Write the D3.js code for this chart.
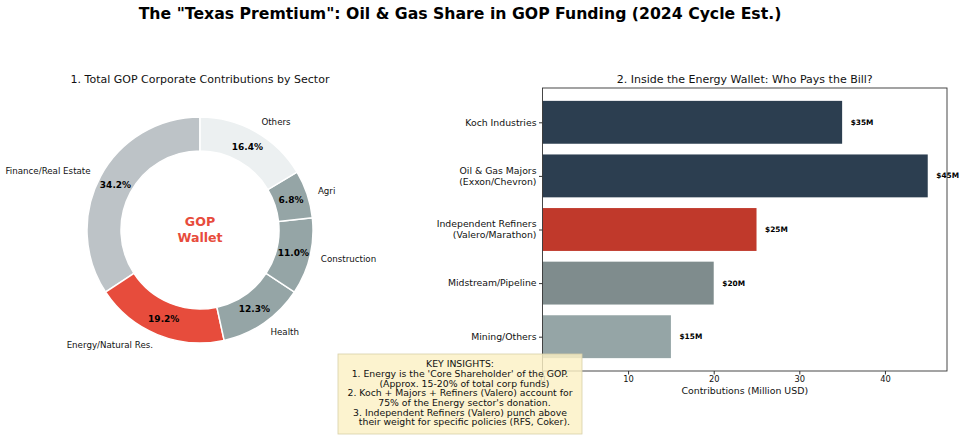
<!DOCTYPE html>
<html><head><meta charset="utf-8">
<script src="https://cdn.jsdelivr.net/npm/d3@7"></script>
<style>
body{margin:0;background:#fff;}
svg{display:block;font-family:"DejaVu Sans",sans-serif;}
text{white-space:pre;}
</style></head>
<body>
<svg id="c" width="966" height="435" xml:space="preserve"></svg>
<script>
// ---- Data ----
const sectors = ["Finance/Real Estate","Energy/Natural Res.","Health","Construction","Agri","Others"];
const sectorValues = [250,140,90,80,50,120];
const sectorColors = ["#bdc3c7","#e74c3c","#95a5a6","#95a5a6","#95a5a6","#ecf0f1"];

const payers = ["Koch Industries","Oil & Gas Majors\n(Exxon/Chevron)","Independent Refiners\n(Valero/Marathon)","Midstream/Pipeline","Mining/Others"];
const payerValues = [35,45,25,20,15];
const payerColors = ["#2c3e50","#2c3e50","#c0392b","#7f8c8d","#95a5a6"];
const xTicks = [0,10,20,30,40];

const insights = [
  "KEY INSIGHTS:",
  "1. Energy is the 'Core Shareholder' of the GOP.",
  "   (Approx. 15-20% of total corp funds)",
  "2. Koch + Majors + Refiners (Valero) account for",
  "   75% of the Energy sector's donation.",
  "3. Independent Refiners (Valero) punch above",
  "   their weight for specific policies (RFS, Coker)."
];

const svg = d3.select("#c");
const ink = "#111";

// Title
svg.append("text").attr("x",460).attr("y",19).attr("text-anchor","middle")
  .attr("font-size",15.7).attr("font-weight","bold").attr("fill","#000")
  .text('The "Texas Premtium": Oil & Gas Share in GOP Funding (2024 Cycle Est.)');

// ---- Donut ----
const cx=200, cy=230, R=113, r0=79;
svg.append("text").attr("x",200).attr("y",83).attr("text-anchor","middle").attr("font-size",11)
  .attr("fill",ink).text("1. Total GOP Corporate Contributions by Sector");
const total = d3.sum(sectorValues);
const pie = d3.pie().sort(null).startAngle(0).endAngle(-2*Math.PI);
const arcs = pie(sectorValues);
const arc = d3.arc().innerRadius(r0).outerRadius(R);
const g = svg.append("g").attr("transform",`translate(${cx},${cy})`);
g.selectAll("path").data(arcs).enter().append("path")
  .attr("d",arc).attr("fill",(d,i)=>sectorColors[i]).attr("stroke","#fff").attr("stroke-width",1.5);
arcs.forEach((d,i)=>{
  const mid=(d.startAngle+d.endAngle)/2;
  const sx=Math.sin(mid), sy=-Math.cos(mid);
  const lx=1.1*R*sx, ly=1.1*R*sy;
  g.append("text").attr("x",lx).attr("y",ly).attr("dy","0.35em")
    .attr("text-anchor", lx>0?"start":"end").attr("font-size",8.7).attr("fill",ink).text(sectors[i]);
  const px=0.85*R*sx, py=0.85*R*sy;
  g.append("text").attr("x",px).attr("y",py).attr("dy","0.35em").attr("text-anchor","middle")
    .attr("font-size",9).attr("font-weight","bold").attr("fill","#000")
    .text((sectorValues[i]/total*100).toFixed(1)+"%");
});
g.append("text").attr("x",0).attr("y",-8).attr("dy","0.35em").attr("text-anchor","middle")
  .attr("font-size",12.6).attr("font-weight","bold").attr("fill","#e74c3c").text("GOP");
g.append("text").attr("x",0).attr("y",8).attr("dy","0.35em").attr("text-anchor","middle")
  .attr("font-size",12.6).attr("font-weight","bold").attr("fill","#e74c3c").text("Wallet");

// ---- Bars ----
const L=542.5, Rt=947, T=88, B=371;
svg.append("text").attr("x",(L+Rt)/2).attr("y",83).attr("text-anchor","middle").attr("font-size",11)
  .attr("fill",ink).text("2. Inside the Energy Wallet: Who Pays the Bill?");
const x = d3.scaleLinear().domain([0, d3.max(payerValues)*1.05]).range([L,Rt]);
const y = d3.scaleLinear().domain([-0.64, payers.length-1+0.64]).range([T,B]);
const bh = y(0.8)-y(0);
const bg = svg.append("g");
payers.forEach((p,i)=>{
  bg.append("rect").attr("x",x(0)).attr("y",y(i)-bh/2).attr("width",x(payerValues[i])-x(0)).attr("height",bh)
    .attr("fill",payerColors[i]);
  bg.append("text").attr("x",x(payerValues[i]+1)).attr("y",y(i)).attr("dy","0.35em")
    .attr("font-size",7.4).attr("font-weight","bold").attr("fill","#000").text("$"+payerValues[i]+"M");
});
const yAx = svg.append("g").attr("transform",`translate(${L},0)`)
  .call(d3.axisLeft(y).tickValues(d3.range(payers.length)).tickSize(3.5).tickFormat(""));
yAx.select(".domain").remove();
yAx.selectAll("line").attr("stroke","#333");
payers.forEach((p,i)=>{
  const lines=p.split("\n");
  const t=svg.append("text").attr("x",L-6).attr("text-anchor","end").attr("font-size",9.3).attr("fill",ink);
  lines.forEach((ln,k)=>{
    t.append("tspan").attr("x",L-6).attr("y",y(i)+(k-(lines.length-1)/2)*11).attr("dy","0.35em").text(ln);
  });
});
const xAx = svg.append("g").attr("transform",`translate(0,${B})`)
  .call(d3.axisBottom(x).tickValues(xTicks).tickSize(3.5).tickPadding(2).tickFormat(d3.format("d")));
xAx.select(".domain").remove();
xAx.selectAll("line").attr("stroke","#333");
xAx.selectAll("text").attr("font-size",8.3).attr("fill",ink).attr("font-family","DejaVu Sans");
svg.append("text").attr("x",(L+Rt)/2).attr("y",394).attr("text-anchor","middle").attr("font-size",9.4)
  .attr("fill",ink).text("Contributions (Million USD)");
svg.append("rect").attr("x",L).attr("y",T).attr("width",Rt-L).attr("height",B-T)
  .attr("fill","none").attr("stroke","#333").attr("stroke-width",0.9);

// ---- Insights box ----
svg.append("rect").attr("x",338).attr("y",354).attr("width",244).attr("height",80)
  .attr("fill","#fbf0c4").attr("fill-opacity",0.82).attr("stroke","#d8cfa8").attr("stroke-width",0.8);
insights.forEach((ln,k)=>{
  svg.append("text").attr("x",460).attr("y",364+k*9.7).attr("dy","0.35em").attr("text-anchor","middle")
    .attr("font-size",9.3).attr("fill",ink).text(ln);
});
</script>
</body></html>
